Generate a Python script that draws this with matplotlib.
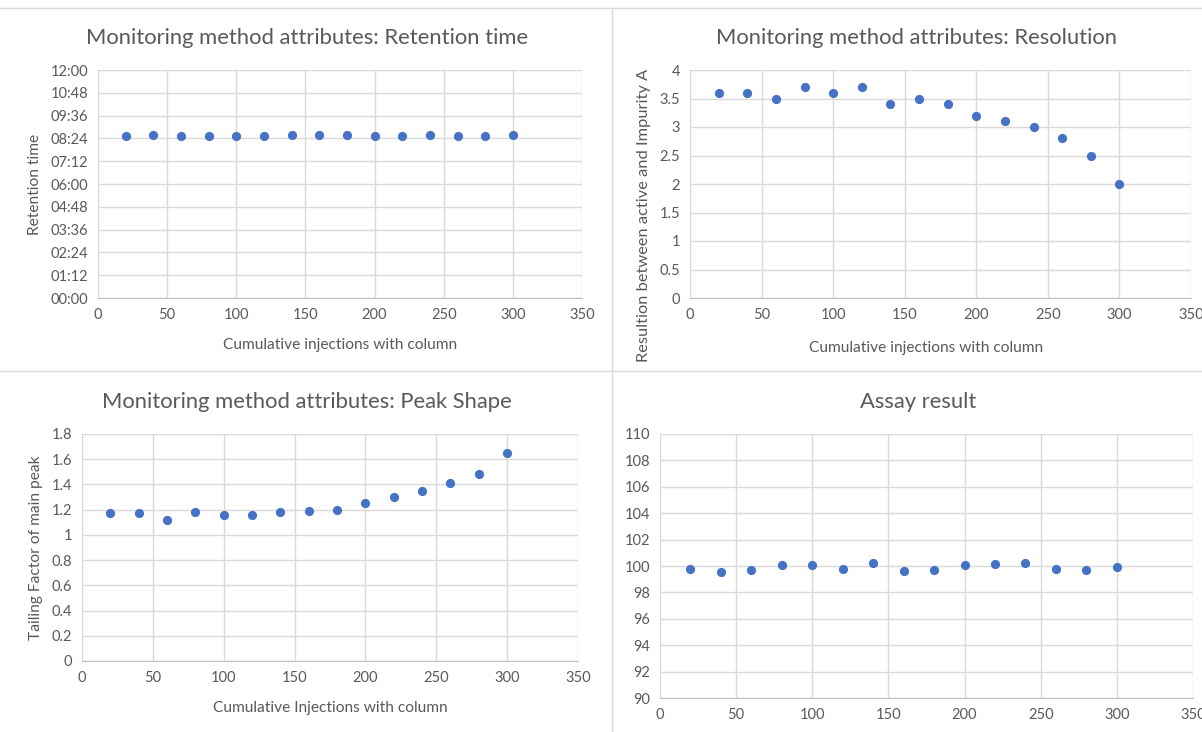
import matplotlib
matplotlib.use("Agg")
import matplotlib.pyplot as plt
from matplotlib.ticker import FuncFormatter, MultipleLocator
from matplotlib.lines import Line2D

plt.rcParams['font.family'] = ['Lato', 'DejaVu Sans']

injections = [20, 40, 60, 80, 100, 120, 140, 160, 180, 200, 220, 240, 260, 280, 300]
# retention time in minutes of the h:mm axis (08:33 ... 08:36)
retention = [513, 516, 513, 513, 513, 513, 516, 516, 516, 513, 513, 516, 513, 513, 516]
resolution = [3.6, 3.6, 3.5, 3.7, 3.6, 3.7, 3.4, 3.5, 3.4, 3.2, 3.1, 3.0, 2.8, 2.5, 2.0]
tailing = [1.17, 1.17, 1.12, 1.18, 1.16, 1.16, 1.18, 1.19, 1.20, 1.25, 1.30, 1.35, 1.41, 1.48, 1.65]
assay = [99.8, 99.55, 99.7, 100.05, 100.1, 99.8, 100.2, 99.6, 99.7, 100.05, 100.15, 100.2, 99.8, 99.7, 99.95]

W, H = 1202, 732
fig = plt.figure(figsize=(W / 100, H / 100), dpi=100)
fig.patch.set_facecolor('white')

TXT = '#595959'
GRID = '#d9d9d9'
BLUE = '#4472C4'
TITLE_FS = 15.8
LABEL_FS = 11.2
TICK_FS = 10.5


def px_axes(left, top, right, bottom):
    return fig.add_axes([left / W, 1 - bottom / H, (right - left) / W, (bottom - top) / H])


def px_title(x, y, s):
    fig.text(x / W, 1 - y / H, s, fontsize=TITLE_FS, color=TXT, ha='center', va='center')


def style(ax, xlim, ylim, ystep):
    ax.set_xlim(*xlim)
    ax.set_ylim(*ylim)
    ax.xaxis.set_major_locator(MultipleLocator(50))
    ax.yaxis.set_major_locator(MultipleLocator(ystep))
    ax.grid(True, color=GRID, linewidth=1)
    ax.set_axisbelow(True)
    for s in ['top', 'right', 'left']:
        ax.spines[s].set_visible(False)
    ax.spines['bottom'].set_color('#bfbfbf')
    ax.tick_params(length=0, labelsize=TICK_FS, labelcolor=TXT, pad=7)


def scatter(ax, x, y):
    ax.scatter(x, y, s=44, color=BLUE, zorder=3, linewidths=0, clip_on=False)


# Separator lines
fig.add_artist(Line2D([0, 1], [1 - 8 / H, 1 - 8 / H], color='#d9d9d9', lw=1))
fig.add_artist(Line2D([0, 1], [1 - 371 / H, 1 - 371 / H], color='#d9d9d9', lw=1))
fig.add_artist(Line2D([612 / W, 612 / W], [0, 1 - 8 / H], color='#d9d9d9', lw=1))

# Top-left: retention time
ax1 = px_axes(98, 70, 582, 298)
style(ax1, (0, 350), (0, 720), 72)
ax1.yaxis.set_major_formatter(FuncFormatter(lambda v, p: f"{int(v // 60):02d}:{int(round(v % 60)):02d}"))
scatter(ax1, injections, retention)
px_title(307, 38, 'Monitoring method attributes: Retention time')
ax1.set_xlabel('Cumulative injections with column', fontsize=LABEL_FS, color=TXT, labelpad=12)
ax1.set_ylabel('Retention time', fontsize=LABEL_FS, color=TXT, labelpad=6)

# Top-right: resolution
ax2 = px_axes(690, 70, 1191, 298)
style(ax2, (0, 350), (0, 4), 0.5)
ax2.yaxis.set_major_formatter(FuncFormatter(lambda v, p: f"{v:g}"))
scatter(ax2, injections, resolution)
px_title(916, 38, 'Monitoring method attributes: Resolution')
ax2.set_xlabel('Cumulative injections with column', fontsize=LABEL_FS, color=TXT)
ax2.xaxis.set_label_coords((926 - 690) / (1191 - 690), -(341 - 298) / (298 - 70))
ax2.set_ylabel('Resultion between active and Impurity A', fontsize=11.8, color=TXT,
               va='center')
ax2.yaxis.set_label_coords(-(690 - 644) / (1191 - 690), (298 - 215) / (298 - 70))

# Bottom-left: peak shape
ax3 = px_axes(82, 434, 578, 661)
style(ax3, (0, 350), (0, 1.8), 0.2)
ax3.yaxis.set_major_formatter(FuncFormatter(lambda v, p: f"{v:g}"))
scatter(ax3, injections, tailing)
px_title(307, 402, 'Monitoring method attributes: Peak Shape')
ax3.set_xlabel('Cumulative Injections with column', fontsize=LABEL_FS, color=TXT, labelpad=12)
ax3.set_ylabel('Tailing Factor of main peak', fontsize=LABEL_FS, color=TXT, labelpad=6)

# Bottom-right: assay
ax4 = px_axes(660, 434, 1193, 698)
style(ax4, (0, 350), (90, 110), 2)
ax4.yaxis.set_major_formatter(FuncFormatter(lambda v, p: f"{v:g}"))
scatter(ax4, injections, assay)
px_title(918, 402, 'Assay result')

fig.savefig('out.png', dpi=100, facecolor='white')
